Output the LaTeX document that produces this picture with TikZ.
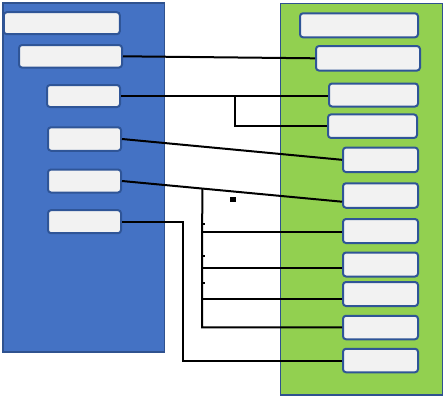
\documentclass[tikz,border=0pt]{standalone}
\usetikzlibrary{calc}
\definecolor{panelblue}{HTML}{4472C4}
\definecolor{panelgreen}{HTML}{92D050}
\definecolor{panelborder}{HTML}{2F528F}
\definecolor{boxfill}{HTML}{F2F2F2}
\definecolor{boxborder}{HTML}{2F5597}
\begin{document}
\begin{tikzpicture}[x=1pt,y=-1pt,
  panel/.style={draw=panelborder,line width=1.6pt},
  itembox/.style={draw=boxborder,fill=boxfill,line width=2pt,rounded corners=3pt,inner sep=0pt,anchor=center},
  wire/.style={draw=black,line width=2pt}]
\useasboundingbox (0,0) rectangle (444,397);
% panels
\draw[panel,fill=panelblue] (3,3) rectangle (164.5,352);
\draw[panel,fill=panelgreen] (280.5,3.5) rectangle (442.5,395);
% left boxes
\node[itembox,minimum width=116pt,minimum height=22pt] (L1) at (61.8,23.2) {};
\node[itembox,minimum width=103pt,minimum height=22.5pt] (L2) at (70.5,56.3) {};
\node[itembox,minimum width=73pt,minimum height=22pt] (L3) at (83.5,96) {};
\node[itembox,minimum width=73pt,minimum height=23.5pt] (L4) at (84.5,139) {};
\node[itembox,minimum width=73pt,minimum height=23pt] (L5) at (84.5,181) {};
\node[itembox,minimum width=73pt,minimum height=23pt] (L6) at (84.5,221.7) {};
% right boxes
\node[itembox,minimum width=118pt,minimum height=24pt] (R1) at (359,25.3) {};
\node[itembox,minimum width=104pt,minimum height=24.5pt] (R2) at (368,58.3) {};
\node[itembox,minimum width=89pt,minimum height=23pt] (R3) at (373.5,95) {};
\node[itembox,minimum width=89pt,minimum height=23.5pt] (R4) at (372.5,126.2) {};
\node[itembox,minimum width=75pt,minimum height=24.5pt] (R5) at (380.5,159.8) {};
\node[itembox,minimum width=75pt,minimum height=24.5pt] (R6) at (380.5,195.5) {};
\node[itembox,minimum width=75pt,minimum height=24pt] (R7) at (380.5,231) {};
\node[itembox,minimum width=75pt,minimum height=24pt] (R8) at (380.5,264.5) {};
\node[itembox,minimum width=75pt,minimum height=24pt] (R9) at (380.5,294) {};
\node[itembox,minimum width=75pt,minimum height=23.5pt] (R10) at (380.5,327.5) {};
\node[itembox,minimum width=75pt,minimum height=23.5pt] (R11) at (380.5,360.5) {};
% connectors
\draw[wire] (L2.east) -- (R2.west);
\draw[wire] (L3.east) -- (L3.east -| R3.west);
\coordinate (b3) at (235,96);
\draw[wire] (b3) |- (R4.west);
\draw[wire] (L4.east) -- (R5.west);
\coordinate (r6in) at ($(R6.west)+(0,6.2)$);
\draw[wire] (L5.east) -- (r6in);
\coordinate (bt) at ($(L5.east)!0.365!(r6in)$);
\coordinate (t7) at (202,232);
\coordinate (t8) at (202,267.7);
\coordinate (t9) at (202,299);
\coordinate (t10) at (202,327.3);
\draw[wire] (bt) -- (t10) -- (t10 -| R10.west);
\draw[wire] (t7) -- (t7 -| R7.west);
\draw[wire] (t8) -- (t8 -| R8.west);
\draw[wire] (t9) -- (t9 -| R9.west);
\coordinate (c6) at (183,221.7);
\coordinate (c11) at (183,361);
\draw[wire] (L6.east) -- (c6) -- (c11) -- (c11 -| R11.west);
% small marks
\fill[black] (230.2,197.3) rectangle (235.6,201.7);
\fill[black] (202,223) rectangle (205,225);
\fill[black] (202,255) rectangle (205,257);
\fill[black] (202,282) rectangle (205,284);
\end{tikzpicture}
\end{document}
